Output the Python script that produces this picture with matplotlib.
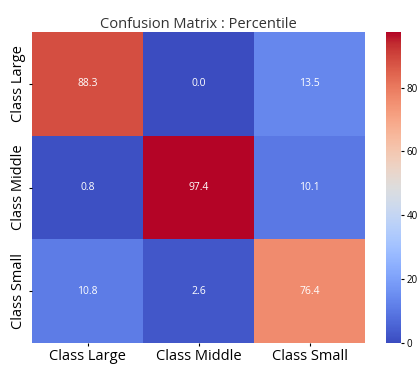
import matplotlib
matplotlib.use("Agg")
import matplotlib.pyplot as plt
import numpy as np
import seaborn as sns

labels = ["Class Large", "Class Middle", "Class Small"]
row_large = [88.3, 0.0, 13.5]
row_middle = [0.8, 97.4, 10.1]
row_small = [10.8, 2.6, 76.4]

cm = np.array([row_large, row_middle, row_small])

plt.rcParams['font.family'] = ['Open Sans', 'DejaVu Sans']

W, H = 420, 365
fig = plt.figure(figsize=(W / 100, H / 100), dpi=100)
ax = fig.add_axes([32 / W, 1 - 343 / H, 333 / W, 311 / H])
cax = fig.add_axes([386 / W, 1 - 343 / H, 15 / W, 311 / H])

sns.heatmap(cm, annot=True, fmt=".1f", cmap="coolwarm", ax=ax, cbar_ax=cax,
            xticklabels=labels, yticklabels=labels,
            annot_kws={"fontsize": 7.5, "color": "white"})

ax.set_title("Confusion Matrix : Percentile", fontsize=10.5, pad=3, color="#333333")
ax.tick_params(axis="both", labelsize=10.5, length=2, pad=2)
ax.set_yticklabels(labels, rotation=90, va="center")
cax.tick_params(labelsize=7, length=2, pad=2)
cax.set_yticks([0, 20, 40, 60, 80])

fig.savefig("out.png", dpi=100)
